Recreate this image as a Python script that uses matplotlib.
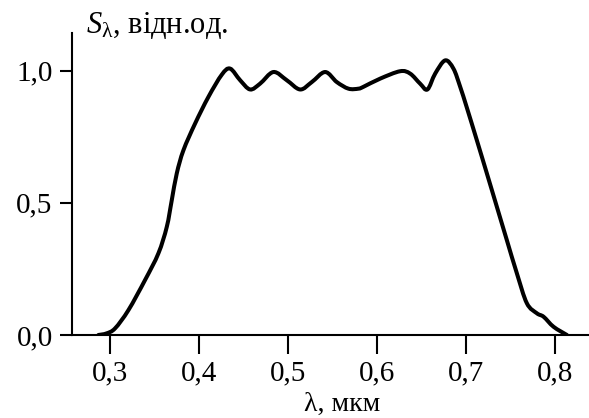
import matplotlib
matplotlib.use("Agg")
import matplotlib.pyplot as plt
from matplotlib.path import Path
from matplotlib.patches import PathPatch

plt.rcParams['font.family'] = ['Liberation Serif', 'DejaVu Serif']
plt.rcParams['mathtext.fontset'] = 'custom'
plt.rcParams['mathtext.rm'] = 'Liberation Serif'
plt.rcParams['mathtext.it'] = 'Liberation Serif:italic'

wavelength = [0.2869, 0.2960, 0.3056, 0.3206, 0.3393, 0.3543, 0.3637, 0.3693, 0.3749,
              0.3824, 0.3955, 0.4105, 0.4255, 0.4348, 0.4461, 0.4573, 0.4685, 0.4835,
              0.4985, 0.5135, 0.5266, 0.5416, 0.5547, 0.5678, 0.5790, 0.5846, 0.6034,
              0.6258, 0.6371, 0.6483, 0.6565, 0.6652, 0.6764, 0.6857, 0.6933, 0.7008,
              0.7120, 0.7233, 0.7345, 0.7457, 0.7570, 0.7682, 0.7795, 0.7870, 0.7982,
              0.8132]
sensitivity = [0.000, 0.006, 0.025, 0.094, 0.208, 0.309, 0.409, 0.510, 0.611,
               0.699, 0.800, 0.901, 0.985, 1.008, 0.964, 0.929, 0.951, 0.995,
               0.964, 0.929, 0.957, 0.995, 0.957, 0.932, 0.932, 0.939, 0.970,
               0.998, 0.989, 0.951, 0.929, 0.989, 1.039, 1.008, 0.939, 0.860,
               0.737, 0.611, 0.485, 0.359, 0.233, 0.120, 0.082, 0.069, 0.031,
               0.000]

xticks = [0.3, 0.4, 0.5, 0.6, 0.7, 0.8]
xtick_labels = ['0,3', '0,4', '0,5', '0,6', '0,7', '0,8']
yticks = [0.0, 0.5, 1.0]
ytick_labels = ['0,0', '0,5', '1,0']

fig = plt.figure(figsize=(5.89, 4.18), dpi=100)
ax = fig.add_axes([0.1228, 0.1986, 0.8772, 0.7214])
ax.set_xlim(0.2576, 0.838)
ax.set_ylim(0, 1.141)

# smooth curve through the read points (Catmull-Rom as cubic Bezier segments)
pts = list(zip(wavelength, sensitivity))
verts = [pts[0]]
codes = [Path.MOVETO]
n = len(pts)
for i in range(n - 1):
    p0 = pts[i - 1] if i > 0 else pts[i]
    p1 = pts[i]
    p2 = pts[i + 1]
    p3 = pts[i + 2] if i + 2 < n else pts[i + 1]
    c1 = (p1[0] + (p2[0] - p0[0]) / 6, p1[1] + (p2[1] - p0[1]) / 6)
    c2 = (p2[0] - (p3[0] - p1[0]) / 6, p2[1] - (p3[1] - p1[1]) / 6)
    verts += [c1, c2, p2]
    codes += [Path.CURVE4] * 3
ax.add_patch(PathPatch(Path(verts, codes), facecolor='none', edgecolor='black',
                       lw=2.9, capstyle='round', joinstyle='round'))

for s in ['top', 'right']:
    ax.spines[s].set_visible(False)
for s in ['left', 'bottom']:
    ax.spines[s].set_linewidth(1.5)
ax.set_xticks(xticks)
ax.set_xticklabels(xtick_labels)
ax.set_yticks(yticks)
ax.set_yticklabels(ytick_labels)
ax.tick_params(axis='x', length=13.5, width=1.5, pad=5, labelsize=21)
ax.tick_params(axis='y', length=8.6, width=1.5, pad=5.5, labelsize=21)

fig.text(342 / 589, 1 - 411 / 418, 'λ, мкм', ha='center', va='baseline', fontsize=20)
fig.text(86.5 / 589, 1 - 33 / 418, r'$S_{\mathrm{λ}}$, відн.од.', ha='left',
         va='baseline', fontsize=22)

fig.savefig('out.png', dpi=100)
